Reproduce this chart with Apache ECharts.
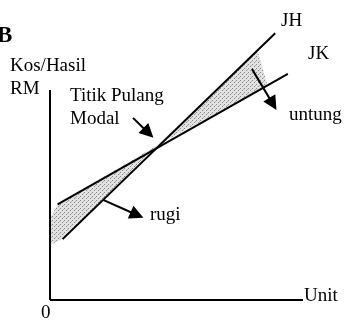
<!DOCTYPE html>
<html>
<head>
<meta charset="utf-8">
<script src="https://cdn.jsdelivr.net/npm/echarts@6/dist/echarts.min.js"></script>
<style>
  html, body { margin: 0; padding: 0; background: #fff; }
  #chart { width: 347px; height: 324px; }
</style>
</head>
<body>
<div id="chart"></div>
<script>
// Jumlah Kos (JK) dan Jumlah Hasil (JH) ikut unit
var jkUnits = [3, 94]
var jkValues = [33, 78]
var jhUnits = [5, 89]
var jhValues = [21, 92]

// kawasan rugi / untung (berlorek)
var rugiShade = [[0, 28], [3, 33], [42.3, 53.4], [5, 21], [0, 19]]
var untungShade = [[42.3, 53.4], [82, 86], [86, 74]]

// anak panah: [dari, ke]
var arrowTitik = [[32.8, 62.8], [38.9, 57.6]]
var arrowRugi = [[21.0, 34.5], [34.4, 29.3]]
var arrowUntung = [[79.8, 79.7], [88.1, 67.6]]

// paksi
var axisY = [[0, 72.4], [0, 0]]
var axisX = [[0, 0], [100, 0]]

function pairs(xs, ys) {
  return xs.map(function (x, i) { return [x, ys[i]] })
}

// corak bintik untuk kawasan berlorek
var dots = document.createElement('canvas')
dots.width = 4
dots.height = 4
var ctx = dots.getContext('2d')
ctx.fillStyle = '#e2e2e2'
ctx.fillRect(0, 0, 4, 4)
ctx.fillStyle = '#8a8a8a'
ctx.fillRect(0, 0, 1, 1)
ctx.fillRect(2, 2, 1, 1)
ctx.fillStyle = '#b5b5b5'
ctx.fillRect(3, 1, 1, 1)

function shade(points) {
  return {
    type: 'custom',
    silent: true,
    z: 1,
    data: [[0, 0]],
    renderItem: function (params, api) {
      return {
        type: 'polygon',
        shape: { points: points.map(function (p) { return api.coord(p) }) },
        style: { fill: { image: dots, repeat: 'repeat' } }
      }
    }
  }
}

function line(data, width) {
  return {
    type: 'line',
    data: data,
    symbol: 'none',
    silent: true,
    z: 3,
    lineStyle: { color: '#000', width: width }
  }
}

function label(text, x, y, size, bold) {
  return {
    type: 'text',
    x: x,
    y: y,
    style: {
      text: text,
      fill: '#000',
      font: (bold ? 'bold ' : '') + (size || 19) + 'px "Liberation Serif", serif'
    }
  }
}

var myChart = echarts.init(document.getElementById('chart'))
var option = {
  animation: false,
  grid: { left: 50, right: 44, top: 10, bottom: 24 },
  xAxis: { type: 'value', min: 0, max: 100, show: false },
  yAxis: { type: 'value', min: 0, max: 100, show: false },
  series: [
    shade(rugiShade),
    shade(untungShade),
    line(axisY, 2),
    line(axisX, 2),
    line(pairs(jkUnits, jkValues), 2),
    line(pairs(jhUnits, jhValues), 2),
    {
      type: 'lines',
      coordinateSystem: 'cartesian2d',
      silent: true,
      z: 4,
      symbol: ['none', 'triangle'],
      symbolSize: 14,
      lineStyle: { color: '#000', width: 2, opacity: 1 },
      data: [
        { coords: arrowTitik },
        { coords: arrowRugi },
        { coords: arrowUntung }
      ]
    }
  ],
  graphic: [
    label('B', -3, 25, 23, true),
    label('Kos/Hasil', 10, 57),
    label('RM', 10, 80),
    label('Titik Pulang', 70, 87),
    label('Modal', 70, 110),
    label('JH', 281, 12),
    label('JK', 308, 45),
    label('untung', 289, 106),
    label('rugi', 150, 206),
    label('Unit', 304, 287),
    label('0', 41, 304)
  ]
}
myChart.setOption(option)
</script>
</body>
</html>
